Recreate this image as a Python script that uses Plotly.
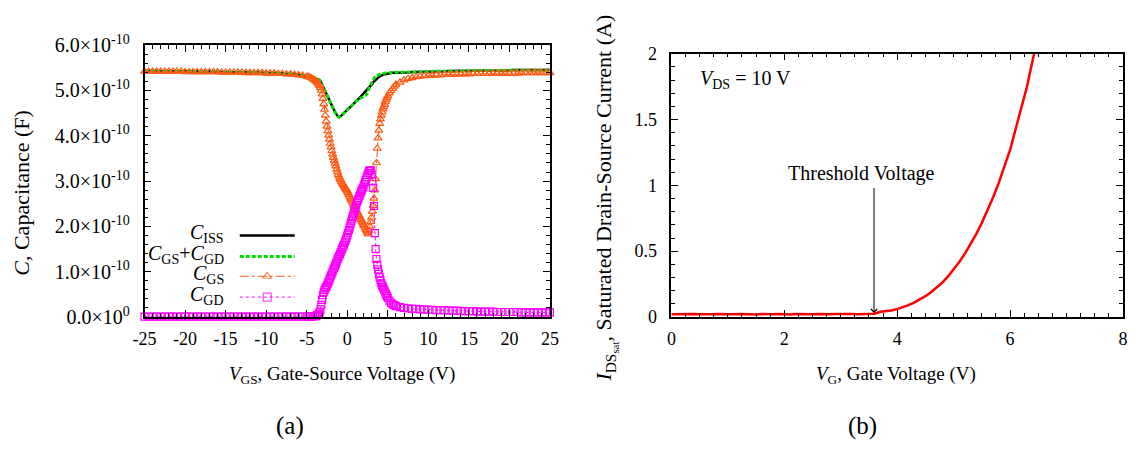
import plotly.graph_objects as go

# ---------------- data (a): capacitances, in units of 1e-10 F ----------------
X_VGS = [
    -25.0, -24.5, -24.0, -23.5, -23.0, -22.5, -22.0, -21.5, -21.0, -20.5,
    -20.0, -19.5, -19.0, -18.5, -18.0, -17.5, -17.0, -16.5, -16.0, -15.5,
    -15.0, -14.5, -14.0, -13.5, -13.0, -12.5, -12.0, -11.5, -11.0, -10.5,
    -10.0, -9.5, -9.0, -8.5, -8.0, -7.5, -7.0, -6.5, -6.0, -5.5,
    -5.0, -4.8, -4.6, -4.4, -4.2,
    -4.0, -3.9, -3.8, -3.7, -3.6, -3.5, -3.4, -3.3, -3.2, -3.1,
    -3.0, -2.9, -2.8, -2.7, -2.6, -2.5, -2.4, -2.3, -2.2, -2.1,
    -2.0, -1.9, -1.8, -1.7, -1.6, -1.5, -1.4, -1.3, -1.2, -1.1,
    -1.0, -0.9, -0.8, -0.7, -0.6, -0.5, -0.4, -0.3, -0.2, -0.1,
    0.0, 0.1, 0.2, 0.3, 0.4, 0.5, 0.6, 0.7, 0.8, 0.9,
    1.0, 1.1, 1.2, 1.3, 1.4, 1.5, 1.6, 1.7, 1.8, 1.9,
    2.0, 2.1, 2.2, 2.3, 2.4, 2.5, 2.6, 2.7, 2.8, 2.9,
    3.0, 3.1, 3.2, 3.3, 3.4, 3.5, 3.6, 3.7, 3.8, 3.9,
    4.0, 4.1, 4.2, 4.3, 4.4, 4.5, 4.6, 4.7, 4.8, 4.9,
    5.0,
    5.2, 5.4, 5.6, 5.8, 6.0,
    6.5, 7.0, 7.5, 8.0, 8.5, 9.0, 9.5, 10.0, 10.5, 11.0,
    11.5, 12.0, 12.5, 13.0, 13.5, 14.0, 14.5, 15.0, 15.5, 16.0,
    16.5, 17.0, 17.5, 18.0, 18.5, 19.0, 19.5, 20.0, 20.5, 21.0,
    21.5, 22.0, 22.5, 23.0, 23.5, 24.0, 24.5, 25.0,
]

C_ISS = [
    5.43, 5.43, 5.43, 5.43, 5.43, 5.43, 5.43, 5.43, 5.43, 5.43,
    5.42, 5.42, 5.42, 5.42, 5.42, 5.42, 5.42, 5.42, 5.42, 5.41,
    5.41, 5.41, 5.41, 5.41, 5.41, 5.40, 5.40, 5.40, 5.40, 5.40,
    5.39, 5.39, 5.39, 5.38, 5.38, 5.37, 5.37, 5.36, 5.35, 5.34,
    5.32, 5.31, 5.30, 5.29, 5.28,
    5.27, 5.27, 5.26, 5.26, 5.25, 5.24, 5.23, 5.20, 5.16, 5.13,
    5.09, 5.05, 5.01, 4.97, 4.92, 4.88, 4.84, 4.80, 4.76, 4.72,
    4.69, 4.65, 4.62, 4.58, 4.55, 4.52, 4.49, 4.46, 4.44, 4.42,
    4.41, 4.42, 4.44, 4.45, 4.47, 4.49, 4.50, 4.52, 4.54, 4.55,
    4.57, 4.59, 4.61, 4.62, 4.64, 4.66, 4.68, 4.69, 4.71, 4.73,
    4.75, 4.76, 4.78, 4.80, 4.82, 4.83, 4.85, 4.87, 4.89, 4.90,
    4.92, 4.94, 4.96, 4.97, 4.99, 5.01, 5.03, 5.05, 5.07, 5.09,
    5.12, 5.15, 5.18, 5.20, 5.22, 5.24, 5.26, 5.28, 5.29, 5.30,
    5.31, 5.32, 5.33, 5.34, 5.35, 5.35, 5.36, 5.36, 5.37, 5.37,
    5.37,
    5.38, 5.38, 5.39, 5.39, 5.39,
    5.40, 5.40, 5.40, 5.41, 5.41, 5.41, 5.41, 5.42, 5.42, 5.42,
    5.42, 5.42, 5.43, 5.43, 5.43, 5.43, 5.43, 5.43, 5.43, 5.44,
    5.44, 5.44, 5.44, 5.44, 5.44, 5.44, 5.44, 5.44, 5.45, 5.45,
    5.45, 5.45, 5.45, 5.45, 5.45, 5.45, 5.45, 5.45,
]

C_GS_PLUS_GD = [
    5.43, 5.43, 5.43, 5.43, 5.43, 5.43, 5.43, 5.43, 5.43, 5.43,
    5.42, 5.42, 5.42, 5.42, 5.42, 5.42, 5.42, 5.42, 5.42, 5.41,
    5.41, 5.41, 5.41, 5.41, 5.41, 5.40, 5.40, 5.40, 5.40, 5.40,
    5.39, 5.39, 5.39, 5.38, 5.38, 5.37, 5.37, 5.36, 5.35, 5.34,
    5.32, 5.31, 5.30, 5.29, 5.28,
    5.27, 5.27, 5.26, 5.26, 5.25, 5.24, 5.23, 5.20, 5.16, 5.13,
    5.09, 5.05, 5.01, 4.97, 4.92, 4.88, 4.84, 4.80, 4.76, 4.72,
    4.69, 4.65, 4.62, 4.58, 4.55, 4.52, 4.49, 4.46, 4.44, 4.42,
    4.41, 4.42, 4.44, 4.45, 4.47, 4.49, 4.50, 4.52, 4.54, 4.55,
    4.57, 4.59, 4.61, 4.62, 4.64, 4.66, 4.68, 4.69, 4.71, 4.73,
    4.75, 4.76, 4.78, 4.79, 4.80, 4.81, 4.82, 4.83, 4.84, 4.85,
    4.86, 4.87, 4.89, 4.90, 4.92, 4.95, 5.00, 5.06, 5.10, 5.14,
    5.18, 5.21, 5.24, 5.27, 5.29, 5.31, 5.32, 5.33, 5.34, 5.35,
    5.36, 5.36, 5.37, 5.37, 5.38, 5.38, 5.38, 5.38, 5.39, 5.39,
    5.39,
    5.39, 5.40, 5.40, 5.40, 5.40,
    5.40, 5.40, 5.41, 5.41, 5.41, 5.41, 5.42, 5.42, 5.42, 5.42,
    5.42, 5.43, 5.43, 5.43, 5.43, 5.43, 5.43, 5.43, 5.44, 5.44,
    5.44, 5.44, 5.44, 5.44, 5.44, 5.44, 5.44, 5.44, 5.45, 5.45,
    5.45, 5.45, 5.45, 5.45, 5.45, 5.45, 5.45, 5.45,
]

C_GS = [
    5.42, 5.42, 5.42, 5.42, 5.42, 5.42, 5.42, 5.42, 5.42, 5.42,
    5.41, 5.41, 5.41, 5.41, 5.41, 5.41, 5.41, 5.41, 5.41, 5.40,
    5.40, 5.40, 5.40, 5.40, 5.40, 5.39, 5.39, 5.39, 5.39, 5.39,
    5.38, 5.38, 5.38, 5.37, 5.37, 5.36, 5.36, 5.35, 5.34, 5.33,
    5.31, 5.30, 5.29, 5.27, 5.25,
    5.23, 5.22, 5.20, 5.18, 5.16, 5.13, 5.10, 5.06, 5.00, 4.92,
    4.82, 4.70, 4.58, 4.45, 4.32, 4.21, 4.11, 4.01, 3.92, 3.83,
    3.75, 3.67, 3.59, 3.52, 3.45, 3.39, 3.33, 3.26, 3.20, 3.14,
    3.09, 3.05, 3.02, 2.98, 2.95, 2.92, 2.89, 2.86, 2.83, 2.81,
    2.78, 2.74, 2.70, 2.66, 2.62, 2.59, 2.55, 2.51, 2.47, 2.43,
    2.39, 2.36, 2.32, 2.29, 2.25, 2.22, 2.18, 2.15, 2.11, 2.08,
    2.04, 2.01, 1.97, 1.93, 1.90, 1.86, 1.83, 1.90, 2.00, 2.10,
    2.20, 2.33, 2.46, 2.62, 2.80, 3.05, 3.40, 3.72, 3.95, 4.12,
    4.27, 4.37, 4.45, 4.52, 4.59, 4.64, 4.69, 4.75, 4.80, 4.84,
    4.88,
    4.94, 4.99, 5.04, 5.09, 5.13,
    5.18, 5.23, 5.26, 5.28, 5.30, 5.31, 5.32, 5.33, 5.33, 5.34,
    5.34, 5.35, 5.35, 5.35, 5.36, 5.36, 5.36, 5.36, 5.37, 5.37,
    5.37, 5.37, 5.37, 5.38, 5.38, 5.38, 5.38, 5.38, 5.38, 5.38,
    5.39, 5.39, 5.39, 5.39, 5.39, 5.39, 5.39, 5.39,
]

C_GD = [
    0.01, 0.01, 0.01, 0.01, 0.01, 0.01, 0.01, 0.01, 0.01, 0.01,
    0.01, 0.01, 0.01, 0.01, 0.01, 0.01, 0.01, 0.01, 0.01, 0.01,
    0.01, 0.01, 0.01, 0.01, 0.01, 0.01, 0.01, 0.01, 0.01, 0.01,
    0.01, 0.01, 0.01, 0.01, 0.01, 0.01, 0.01, 0.01, 0.01, 0.01,
    0.01, 0.01, 0.01, 0.01, 0.02,
    0.02, 0.02, 0.03, 0.04, 0.05, 0.07, 0.10, 0.17, 0.27, 0.38,
    0.48, 0.55, 0.60, 0.63, 0.66, 0.70, 0.74, 0.78, 0.83, 0.87,
    0.92, 0.96, 1.00, 1.05, 1.09, 1.13, 1.18, 1.22, 1.27, 1.31,
    1.35, 1.39, 1.43, 1.48, 1.52, 1.56, 1.60, 1.65, 1.69, 1.74,
    1.80, 1.86, 1.92, 1.98, 2.05, 2.11, 2.17, 2.23, 2.29, 2.35,
    2.41, 2.47, 2.53, 2.58, 2.62, 2.67, 2.71, 2.76, 2.80, 2.84,
    2.88, 2.93, 2.98, 3.03, 3.08, 3.13, 3.18, 3.22, 3.24, 3.24,
    3.15, 3.00, 2.85, 2.45, 1.85, 1.50, 1.28, 1.15, 1.05, 0.95,
    0.88, 0.81, 0.75, 0.70, 0.66, 0.62, 0.58, 0.54, 0.50, 0.46,
    0.42,
    0.36, 0.31, 0.28, 0.26, 0.24,
    0.22, 0.20, 0.19, 0.18, 0.18, 0.17, 0.17, 0.16, 0.16, 0.15,
    0.15, 0.15, 0.14, 0.14, 0.14, 0.13, 0.13, 0.13, 0.13, 0.12,
    0.12, 0.12, 0.12, 0.12, 0.11, 0.11, 0.11, 0.11, 0.11, 0.11,
    0.10, 0.10, 0.10, 0.10, 0.10, 0.10, 0.10, 0.10,
]

assert len(X_VGS) == len(C_ISS) == len(C_GS_PLUS_GD) == len(C_GS) == len(C_GD), \
    (len(X_VGS), len(C_ISS), len(C_GS_PLUS_GD), len(C_GS), len(C_GD))

VGS_TICKVALS = [-25, -20, -15, -10, -5, 0, 5, 10, 15, 20, 25]
VGS_TICKTEXT = ["-25", "-20", "-15", "-10", "-5", "0", "5", "10", "15", "20", "25"]
CAP_TICKVALS = [0, 1, 2, 3, 4, 5, 6]
CAP_TICKTEXT = ["0.0×10<sup>0</sup>", "1.0×10<sup>-10</sup>", "2.0×10<sup>-10</sup>",
                "3.0×10<sup>-10</sup>", "4.0×10<sup>-10</sup>", "5.0×10<sup>-10</sup>",
                "6.0×10<sup>-10</sup>"]

# ---------------- data (b): saturated drain-source current ----------------
X_VG = [
    0.0, 0.1, 0.2, 0.3, 0.4, 0.5, 0.6, 0.7, 0.8, 0.9,
    1.0, 1.1, 1.2, 1.3, 1.4, 1.5, 1.6, 1.7, 1.8, 1.9,
    2.0, 2.1, 2.2, 2.3, 2.4, 2.5, 2.6, 2.7, 2.8, 2.9,
    3.0, 3.1, 3.2, 3.3, 3.4, 3.5, 3.6, 3.7, 3.8, 3.9,
    4.0, 4.1, 4.2, 4.3, 4.4, 4.5, 4.6, 4.7, 4.8, 4.9,
    5.0, 5.1, 5.2, 5.3, 5.4, 5.5, 5.6, 5.7, 5.8, 5.9,
    6.0, 6.1, 6.2, 6.3, 6.4, 6.5,
]
I_DS_SAT = [
    0.020, 0.022, 0.019, 0.021, 0.023, 0.020, 0.018, 0.021, 0.022, 0.020,
    0.019, 0.021, 0.023, 0.020, 0.021, 0.019, 0.022, 0.020, 0.021, 0.023,
    0.020, 0.019, 0.022, 0.021, 0.018, 0.021, 0.022, 0.020, 0.021, 0.023,
    0.021, 0.020, 0.022, 0.021, 0.022, 0.023, 0.025, 0.040, 0.044, 0.050,
    0.060, 0.073, 0.090, 0.110, 0.132, 0.158, 0.188, 0.222, 0.262, 0.308,
    0.360, 0.418, 0.482, 0.553, 0.630, 0.715, 0.808, 0.910, 1.020, 1.140,
    1.270, 1.430, 1.590, 1.750, 1.950, 2.150,
]
VG_TICKVALS = [0, 2, 4, 6, 8]
VG_TICKTEXT = ["0", "2", "4", "6", "8"]
I_TICKVALS = [0, 0.5, 1, 1.5, 2]
I_TICKTEXT = ["0", "0.5", "1", "1.5", "2"]
THRESHOLD_V = 3.59

# ---------------- layout constants ----------------
W, H = 1146, 453
SERIF = "Liberation Serif"
ORANGE = "#ff5a14"
MAGENTA = "#ff00ff"
GREEN = "#00dd00"


def px_x(p):
    return p / W


def px_y(p):
    return 1 - p / H


fig = go.Figure()

fig.add_trace(go.Scatter(x=X_VGS, y=C_ISS, mode="lines", name="C_ISS",
                         line=dict(color="black", width=2.5),
                         xaxis="x", yaxis="y", showlegend=False))
fig.add_trace(go.Scatter(x=X_VGS, y=C_GS_PLUS_GD, mode="lines", name="C_GS+C_GD",
                         line=dict(color=GREEN, width=3, dash="4px,2px"),
                         xaxis="x", yaxis="y", showlegend=False))
fig.add_trace(go.Scatter(x=X_VGS, y=C_GS, mode="lines+markers", name="C_GS",
                         line=dict(color=ORANGE, width=1, dash="dashdot"),
                         marker=dict(symbol="triangle-up-open", size=7, color=ORANGE,
                                     line=dict(width=1.2, color=ORANGE)),
                         cliponaxis=False, xaxis="x", yaxis="y", showlegend=False))
fig.add_trace(go.Scatter(x=X_VGS, y=C_GD, mode="lines+markers", name="C_GD",
                         line=dict(color=MAGENTA, width=1, dash="dot"),
                         marker=dict(symbol="square-open", size=7, color=MAGENTA,
                                     line=dict(width=1.2, color=MAGENTA)),
                         cliponaxis=False, xaxis="x", yaxis="y", showlegend=False))

fig.add_trace(go.Scatter(x=X_VG, y=I_DS_SAT, mode="lines",
                         line=dict(color="#ff0000", width=2.5),
                         xaxis="x2", yaxis="y2", showlegend=False))

# ---- gnuplot-style legend (text left, sample right) drawn in a pixel overlay axis ----
LEG_TEXT_RIGHT = 218
LEG_X0, LEG_XM, LEG_X1 = 232, 260, 288
LEG_ROWS = [235, 257, 278, 300]
LEG_LABELS = ["<i>C</i><sub>ISS</sub>", "<i>C</i><sub>GS</sub>+<i>C</i><sub>GD</sub>",
              "<i>C</i><sub>GS</sub>", "<i>C</i><sub>GD</sub>"]
fig.add_trace(go.Scatter(x=[LEG_X0, LEG_X1], y=[LEG_ROWS[0]] * 2, mode="lines",
                         line=dict(color="black", width=2.5),
                         xaxis="x3", yaxis="y3", showlegend=False, hoverinfo="skip"))
fig.add_trace(go.Scatter(x=[LEG_X0, LEG_X1], y=[LEG_ROWS[1]] * 2, mode="lines",
                         line=dict(color=GREEN, width=3, dash="4px,2px"),
                         xaxis="x3", yaxis="y3", showlegend=False, hoverinfo="skip"))
fig.add_trace(go.Scatter(x=[LEG_X0, LEG_XM, LEG_X1], y=[LEG_ROWS[2]] * 3, mode="lines+markers",
                         line=dict(color=ORANGE, width=1, dash="dashdot"),
                         marker=dict(symbol="triangle-up-open", size=[0, 8, 0], color=ORANGE,
                                     line=dict(width=1.2, color=ORANGE)),
                         xaxis="x3", yaxis="y3", showlegend=False, hoverinfo="skip"))
fig.add_trace(go.Scatter(x=[LEG_X0, LEG_XM, LEG_X1], y=[LEG_ROWS[3]] * 3, mode="lines+markers",
                         line=dict(color=MAGENTA, width=1, dash="dot"),
                         marker=dict(symbol="square-open", size=[0, 8, 0], color=MAGENTA,
                                     line=dict(width=1.2, color=MAGENTA)),
                         xaxis="x3", yaxis="y3", showlegend=False, hoverinfo="skip"))

axis_common = dict(showline=True, linecolor="black", linewidth=1.5, mirror="ticks",
                   ticks="inside", ticklen=7, tickwidth=1, tickcolor="black",
                   showgrid=False, zeroline=False)
tick_font = dict(family=SERIF, size=18, color="black")

fig.update_layout(
    width=W, height=H,
    margin=dict(l=0, r=0, t=0, b=0),
    paper_bgcolor="white", plot_bgcolor="rgba(0,0,0,0)",
    showlegend=False,
    xaxis=dict(domain=[px_x(135), px_x(548)], range=[-25, 25], anchor="y",
               tickvals=VGS_TICKVALS, ticktext=VGS_TICKTEXT,
               ticklabelstandoff=5, tickfont=tick_font,
               minor=dict(ticks="inside", ticklen=4, dtick=1, tickcolor="black"),
               **axis_common),
    yaxis=dict(domain=[px_y(321), px_y(34)], range=[0, 6], anchor="x",
               tickvals=CAP_TICKVALS, ticktext=CAP_TICKTEXT, ticklabelstandoff=9,
               tickfont=dict(family=SERIF, size=20, color="black"),
               minor=dict(ticks="inside", ticklen=4, dtick=0.2, tickcolor="black"),
               **axis_common),
    xaxis2=dict(domain=[px_x(671.7), px_x(1131.7)], range=[0, 8], anchor="y2",
                tickvals=VG_TICKVALS, ticktext=VG_TICKTEXT,
                ticklabelstandoff=5, tickfont=tick_font,
                minor=dict(ticks="inside", ticklen=4, dtick=0.25, tickcolor="black"),
                **axis_common),
    yaxis2=dict(domain=[px_y(321), px_y(43)], range=[0, 2], anchor="x2",
                tickvals=I_TICKVALS, ticktext=I_TICKTEXT,
                ticklabelstandoff=9, tickfont=tick_font,
                minor=dict(ticks="inside", ticklen=4, dtick=0.1, tickcolor="black"),
                **axis_common),
    xaxis3=dict(domain=[0, 1], range=[0, W], anchor="y3", visible=False, fixedrange=True),
    yaxis3=dict(domain=[0, 1], range=[H, 0], anchor="x3", visible=False, fixedrange=True),
)

xtitle_font = dict(family=SERIF, size=19, color="black")
ytitle_font = dict(family=SERIF, size=22, color="black")
ann = []
for lbl, row in zip(LEG_LABELS, LEG_ROWS):
    ann.append(dict(text=lbl, x=px_x(LEG_TEXT_RIGHT), y=px_y(row - 2), xref="paper", yref="paper",
                    xanchor="right", yanchor="middle", showarrow=False,
                    font=dict(family=SERIF, size=20, color="black")))
ann += [
    dict(text="<i>C</i>, Capacitance (F)", x=px_x(10), y=px_y(190), textangle=-90,
         xanchor="center", yanchor="middle",
         xref="paper", yref="paper", showarrow=False, font=ytitle_font),
    dict(text="<i>V</i><sub>GS</sub>, Gate-Source Voltage (V)", x=px_x(336), y=px_y(382),
         xanchor="center", yanchor="middle",
         xref="paper", yref="paper", showarrow=False, font=xtitle_font),
    dict(text="<i>I</i><sub>DS<sub>sat</sub></sub>, Saturated Drain-Source Current (A)",
         x=px_x(605), y=px_y(195), textangle=-90, xanchor="center", yanchor="middle",
         xref="paper", yref="paper", showarrow=False, font=ytitle_font),
    dict(text="<i>V</i><sub>G</sub>, Gate Voltage (V)", x=px_x(900), y=px_y(382),
         xanchor="center", yanchor="middle",
         xref="paper", yref="paper", showarrow=False, font=xtitle_font),
    dict(text="(a)", x=px_x(283), y=px_y(436), xanchor="center", yanchor="middle",
         xref="paper", yref="paper", showarrow=False,
         font=dict(family=SERIF, size=25, color="black")),
    dict(text="(b)", x=px_x(866), y=px_y(436), xanchor="center", yanchor="middle",
         xref="paper", yref="paper", showarrow=False,
         font=dict(family=SERIF, size=25, color="black")),
    dict(text="<i>V</i><sub>DS</sub> = 10 V", x=px_x(699), y=px_y(70),
         xanchor="left", yanchor="middle",
         xref="paper", yref="paper", showarrow=False,
         font=dict(family=SERIF, size=20, color="black")),
    dict(text="Threshold Voltage", x=px_x(865), y=px_y(170), xanchor="center", yanchor="middle",
         xref="paper", yref="paper", showarrow=False,
         font=dict(family=SERIF, size=20, color="black")),
    dict(text="", x=THRESHOLD_V, y=0.03, xref="x2", yref="y2",
         ax=THRESHOLD_V, ay=0.99, axref="x2", ayref="y2",
         showarrow=True, arrowhead=4, arrowsize=1.2, arrowwidth=1, arrowcolor="black"),
]
fig.update_layout(annotations=ann)

fig.write_html("out.html")
